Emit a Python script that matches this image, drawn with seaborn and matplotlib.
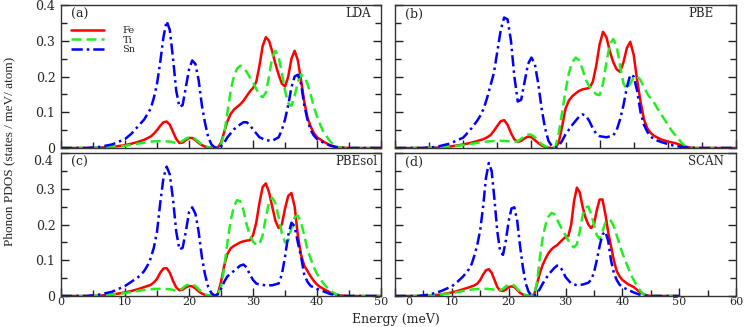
import matplotlib
matplotlib.use("Agg")
import matplotlib.pyplot as plt
import matplotlib.transforms as mtransforms
from matplotlib.ticker import MultipleLocator, FuncFormatter
import pandas as pd
import seaborn as sns

species = ["Fe", "Ti", "Sn"]
functionals = ["LDA", "PBE", "PBEsol", "SCAN"]
panel_tags = ["(a)", "(b)", "(c)", "(d)"]
colors = {"Fe": "#ff0000", "Ti": "#22ee22", "Sn": "#0000ff"}

# (energy in meV, PDOS) pairs
lda_fe = [(0, 0), (4, 0), (6, 0.001), (8, 0.003), (10, 0.008), (11, 0.012), (12, 0.017), (13, 0.023),
          (14, 0.032), (14.5, 0.04), (15, 0.05), (15.5, 0.062), (16, 0.072), (16.5, 0.074), (17, 0.065),
          (17.5, 0.045), (18, 0.025), (18.5, 0.014), (19, 0.015), (19.5, 0.022), (20, 0.028), (20.5, 0.028),
          (21, 0.022), (21.5, 0.014), (22, 0.008), (22.5, 0.004), (23, 0.002), (23.5, 0.001), (24, 0),
          (24.5, 0.001), (25, 0.015), (25.5, 0.045), (26, 0.075), (26.5, 0.095), (27, 0.107), (27.5, 0.115),
          (28, 0.122), (28.5, 0.132), (29, 0.145), (29.5, 0.158), (30, 0.168), (30.5, 0.185), (31, 0.23),
          (31.5, 0.285), (32, 0.31), (32.5, 0.3), (33, 0.27), (33.5, 0.235), (34, 0.205), (34.5, 0.18),
          (35, 0.172), (35.5, 0.2), (36, 0.25), (36.5, 0.272), (37, 0.245), (37.5, 0.19), (38, 0.13),
          (38.5, 0.085), (39, 0.06), (39.5, 0.042), (40, 0.03), (41, 0.018), (42, 0.008), (43, 0.003),
          (44, 0.001), (45, 0), (50, 0)]
lda_ti = [(0, 0), (4, 0), (6, 0.001), (8, 0.003), (10, 0.006), (11, 0.009), (12, 0.012), (13, 0.015),
          (14, 0.018), (15, 0.019), (16, 0.019), (17, 0.018), (17.5, 0.016), (18, 0.014), (18.5, 0.015),
          (19, 0.02), (19.5, 0.026), (20, 0.03), (20.5, 0.03), (21, 0.025), (21.5, 0.017), (22, 0.01),
          (22.5, 0.005), (23, 0.002), (23.5, 0.001), (24, 0), (24.5, 0.002), (25, 0.01), (25.5, 0.04),
          (26, 0.1), (26.5, 0.16), (27, 0.2), (27.5, 0.222), (28, 0.23), (28.5, 0.225), (29, 0.213),
          (29.5, 0.198), (30, 0.184), (30.5, 0.165), (31, 0.148), (31.5, 0.142), (32, 0.155), (32.5, 0.2),
          (33, 0.255), (33.5, 0.272), (34, 0.255), (34.5, 0.21), (35, 0.16), (35.5, 0.125), (36, 0.118),
          (36.5, 0.145), (37, 0.185), (37.5, 0.205), (38, 0.2), (38.5, 0.18), (39, 0.15), (39.5, 0.115),
          (40, 0.088), (40.5, 0.065), (41, 0.045), (41.5, 0.032), (42, 0.02), (42.5, 0.01), (43, 0.004),
          (43.5, 0.001), (44, 0), (50, 0)]
lda_sn = [(0, 0), (4, 0), (6, 0.003), (8, 0.01), (10, 0.025), (11, 0.04), (12, 0.06), (13, 0.08),
          (14, 0.11), (14.5, 0.14), (15, 0.18), (15.5, 0.24), (16, 0.31), (16.5, 0.355), (17, 0.33),
          (17.5, 0.25), (18, 0.16), (18.5, 0.115), (19, 0.12), (19.5, 0.17), (20, 0.22), (20.5, 0.245),
          (21, 0.235), (21.5, 0.19), (22, 0.12), (22.5, 0.07), (23, 0.03), (23.5, 0.01), (24, 0.002),
          (24.5, 0), (25, 0.005), (25.5, 0.015), (26, 0.03), (27, 0.052), (28, 0.066), (28.5, 0.072),
          (29, 0.072), (29.5, 0.064), (30, 0.052), (31, 0.03), (32, 0.022), (33, 0.02), (34, 0.03),
          (34.5, 0.05), (35, 0.08), (35.5, 0.12), (36, 0.17), (36.5, 0.2), (37, 0.205), (37.5, 0.18),
          (38, 0.12), (38.5, 0.08), (39, 0.05), (39.5, 0.035), (40, 0.025), (41, 0.015), (42, 0.007),
          (43, 0.002), (44, 0), (50, 0)]

pbe_fe = [(0, 0), (4, 0), (6, 0.001), (8, 0.004), (10, 0.01), (11, 0.014), (12, 0.019), (13, 0.025),
          (13.5, 0.03), (14, 0.036), (14.5, 0.048), (15, 0.062), (15.5, 0.075), (16, 0.078), (16.5, 0.065),
          (17, 0.042), (17.5, 0.024), (18, 0.017), (18.5, 0.02), (19, 0.027), (19.5, 0.032), (20, 0.03),
          (20.5, 0.022), (21, 0.014), (21.5, 0.007), (22, 0.003), (22.5, 0.001), (23, 0), (23.5, 0),
          (24, 0.015), (24.5, 0.06), (25, 0.11), (25.5, 0.133), (26, 0.145), (26.5, 0.153), (27, 0.16),
          (27.5, 0.164), (28, 0.166), (28.5, 0.168), (29, 0.185), (29.5, 0.23), (30, 0.29), (30.5, 0.325),
          (31, 0.31), (31.5, 0.27), (32, 0.24), (32.5, 0.22), (33, 0.213), (33.5, 0.24), (34, 0.28),
          (34.5, 0.297), (35, 0.26), (35.5, 0.19), (36, 0.13), (36.5, 0.08), (37, 0.055), (37.5, 0.042),
          (38, 0.034), (38.5, 0.029), (39, 0.024), (40, 0.018), (41, 0.014), (42, 0.008), (43, 0.002),
          (44, 0), (50, 0)]
pbe_ti = [(0, 0), (4, 0), (6, 0.001), (8, 0.004), (10, 0.008), (11, 0.011), (12, 0.014), (13, 0.017),
          (14, 0.019), (15, 0.02), (16, 0.02), (17, 0.018), (17.5, 0.017), (18, 0.019), (18.5, 0.026),
          (19, 0.033), (19.5, 0.038), (20, 0.037), (20.5, 0.03), (21, 0.02), (21.5, 0.011), (22, 0.005),
          (22.5, 0.002), (23, 0.001), (23.5, 0.002), (24, 0.04), (24.5, 0.1), (25, 0.16), (25.5, 0.21),
          (26, 0.24), (26.5, 0.253), (27, 0.245), (27.5, 0.22), (28, 0.19), (28.5, 0.172), (29, 0.16),
          (29.5, 0.15), (30, 0.148), (30.5, 0.18), (31, 0.24), (31.5, 0.29), (32, 0.305), (32.5, 0.285),
          (33, 0.23), (33.5, 0.18), (34, 0.165), (34.5, 0.18), (35, 0.198), (35.5, 0.2), (36, 0.19),
          (36.5, 0.17), (37, 0.152), (37.5, 0.138), (38, 0.126), (38.5, 0.11), (39, 0.095), (39.5, 0.08),
          (40, 0.065), (40.5, 0.05), (41, 0.038), (41.5, 0.028), (42, 0.015), (42.5, 0.006), (43, 0.002),
          (44, 0), (50, 0)]
pbe_sn = [(0, 0), (4, 0), (6, 0.003), (8, 0.012), (10, 0.029), (11, 0.05), (12, 0.075), (12.5, 0.09),
          (13, 0.11), (13.5, 0.14), (14, 0.175), (14.5, 0.21), (15, 0.27), (15.5, 0.33), (16, 0.365),
          (16.5, 0.36), (17, 0.3), (17.5, 0.2), (18, 0.13), (18.5, 0.135), (19, 0.185), (19.5, 0.235),
          (20, 0.253), (20.5, 0.235), (21, 0.18), (21.5, 0.11), (22, 0.055), (22.5, 0.02), (23, 0.005),
          (23.5, 0.001), (24, 0.006), (24.5, 0.02), (25, 0.038), (26, 0.065), (27, 0.088), (27.5, 0.094),
          (28, 0.09), (28.5, 0.075), (29, 0.055), (29.5, 0.04), (30, 0.033), (31, 0.03), (32, 0.035),
          (32.5, 0.05), (33, 0.08), (33.5, 0.12), (34, 0.17), (34.5, 0.205), (35, 0.2), (35.5, 0.16),
          (36, 0.1), (36.5, 0.065), (37, 0.045), (37.5, 0.032), (38, 0.024), (39, 0.017), (40, 0.011),
          (41, 0.006), (42, 0.003), (43, 0.001), (44, 0), (50, 0)]

pbesol_fe = [(0, 0), (4, 0), (6, 0.001), (8, 0.004), (10, 0.01), (11, 0.014), (12, 0.019), (13, 0.025),
             (14, 0.031), (14.5, 0.038), (15, 0.048), (15.5, 0.065), (16, 0.077), (16.5, 0.078), (17, 0.065),
             (17.5, 0.042), (18, 0.024), (18.5, 0.016), (19, 0.018), (19.5, 0.024), (20, 0.028), (20.5, 0.027),
             (21, 0.021), (21.5, 0.013), (22, 0.007), (22.5, 0.003), (23, 0.001), (23.5, 0), (24, 0),
             (24.5, 0.005), (25, 0.04), (25.5, 0.085), (26, 0.118), (26.5, 0.133), (27, 0.14), (27.5, 0.145),
             (28, 0.15), (28.5, 0.153), (29, 0.155), (29.5, 0.156), (30, 0.17), (30.5, 0.205), (31, 0.26),
             (31.5, 0.305), (32, 0.315), (32.5, 0.29), (33, 0.25), (33.5, 0.21), (34, 0.19), (34.5, 0.2),
             (35, 0.245), (35.5, 0.28), (36, 0.288), (36.5, 0.25), (37, 0.17), (37.5, 0.115), (38, 0.085),
             (38.5, 0.07), (39, 0.055), (39.5, 0.042), (40, 0.032), (40.5, 0.025), (41, 0.02), (42, 0.01),
             (43, 0.004), (44, 0.001), (45, 0), (50, 0)]
pbesol_ti = [(0, 0), (4, 0), (6, 0.001), (8, 0.004), (10, 0.008), (11, 0.011), (12, 0.014), (13, 0.017),
             (14, 0.019), (15, 0.02), (16, 0.02), (17, 0.019), (17.5, 0.017), (18, 0.015), (18.5, 0.016),
             (19, 0.022), (19.5, 0.029), (20, 0.033), (20.5, 0.033), (21, 0.028), (21.5, 0.019), (22, 0.011),
             (22.5, 0.005), (23, 0.002), (23.5, 0.001), (24, 0), (24.5, 0.005), (25, 0.025), (25.5, 0.08),
             (26, 0.15), (26.5, 0.21), (27, 0.25), (27.5, 0.268), (28, 0.265), (28.5, 0.24), (29, 0.2),
             (29.5, 0.17), (30, 0.152), (30.5, 0.143), (31, 0.145), (31.5, 0.17), (32, 0.22), (32.5, 0.262),
             (33, 0.275), (33.5, 0.26), (34, 0.22), (34.5, 0.175), (35, 0.15), (35.5, 0.155), (36, 0.19),
             (36.5, 0.22), (37, 0.225), (37.5, 0.205), (38, 0.17), (38.5, 0.13), (39, 0.105), (39.5, 0.08),
             (40, 0.062), (40.5, 0.048), (41, 0.035), (41.5, 0.025), (42, 0.017), (42.5, 0.01), (43, 0.005),
             (43.5, 0.002), (44, 0), (50, 0)]
pbesol_sn = [(0, 0), (4, 0), (6, 0.004), (8, 0.012), (10, 0.028), (11, 0.04), (12, 0.052), (12.5, 0.06),
             (13, 0.07), (13.5, 0.085), (14, 0.105), (14.5, 0.135), (15, 0.18), (15.5, 0.26), (16, 0.33),
             (16.5, 0.362), (17, 0.34), (17.5, 0.27), (18, 0.18), (18.5, 0.13), (19, 0.135), (19.5, 0.18),
             (20, 0.235), (20.5, 0.248), (21, 0.23), (21.5, 0.18), (22, 0.11), (22.5, 0.06), (23, 0.025),
             (23.5, 0.008), (24, 0.001), (24.5, 0.005), (25, 0.02), (25.5, 0.04), (26, 0.055), (27, 0.07),
             (28, 0.085), (28.5, 0.088), (29, 0.08), (29.5, 0.06), (30, 0.045), (30.5, 0.035), (31, 0.032),
             (32, 0.03), (33, 0.03), (34, 0.035), (34.5, 0.06), (35, 0.11), (35.5, 0.17), (36, 0.205),
             (36.5, 0.195), (37, 0.15), (37.5, 0.11), (38, 0.06), (38.5, 0.04), (39, 0.028), (40, 0.02),
             (41, 0.013), (42, 0.006), (43, 0.002), (44, 0), (50, 0)]

scan_fe = [(0, 0), (4, 0), (6, 0.001), (8, 0.004), (10, 0.01), (11, 0.014), (12, 0.019), (13, 0.024),
           (14, 0.03), (14.5, 0.035), (15, 0.045), (15.5, 0.06), (16, 0.072), (16.5, 0.075), (17, 0.065),
           (17.5, 0.045), (18, 0.025), (18.5, 0.015), (19, 0.014), (19.5, 0.018), (20, 0.025), (20.5, 0.027),
           (21, 0.025), (21.5, 0.017), (22, 0.009), (22.5, 0.004), (23, 0.002), (23.5, 0.001), (24, 0),
           (24.5, 0.005), (25, 0.035), (25.5, 0.065), (26, 0.088), (26.5, 0.105), (27, 0.12), (27.5, 0.13),
           (28, 0.137), (28.5, 0.142), (29, 0.15), (29.5, 0.158), (30, 0.165), (30.5, 0.168), (31, 0.2),
           (31.5, 0.265), (32, 0.303), (32.5, 0.29), (33, 0.25), (33.5, 0.22), (34, 0.2), (34.5, 0.19),
           (35, 0.2), (35.5, 0.24), (36, 0.27), (36.5, 0.27), (37, 0.23), (37.5, 0.18), (38, 0.14),
           (38.5, 0.1), (39, 0.07), (39.5, 0.055), (40, 0.045), (41, 0.033), (42, 0.025), (43, 0.012),
           (44, 0.003), (45, 0), (50, 0)]
scan_ti = [(0, 0), (4, 0), (6, 0.001), (8, 0.004), (10, 0.008), (11, 0.011), (12, 0.014), (13, 0.017),
           (14, 0.019), (15, 0.02), (16, 0.02), (17, 0.019), (17.5, 0.017), (18, 0.015), (18.5, 0.016),
           (19, 0.02), (19.5, 0.027), (20, 0.032), (20.5, 0.033), (21, 0.029), (21.5, 0.02), (22, 0.012),
           (22.5, 0.006), (23, 0.002), (23.5, 0.001), (24, 0), (24.5, 0.003), (25, 0.04), (25.5, 0.11),
           (26, 0.165), (26.5, 0.2), (27, 0.222), (27.5, 0.232), (28, 0.23), (28.5, 0.215), (29, 0.198),
           (29.5, 0.183), (30, 0.17), (30.5, 0.155), (31, 0.142), (31.5, 0.136), (32, 0.145), (32.5, 0.18),
           (33, 0.225), (33.5, 0.248), (34, 0.25), (34.5, 0.23), (35, 0.2), (35.5, 0.17), (36, 0.16),
           (36.5, 0.18), (37, 0.205), (37.5, 0.213), (38, 0.21), (38.5, 0.195), (39, 0.17), (39.5, 0.145),
           (40, 0.12), (40.5, 0.1), (41, 0.08), (41.5, 0.06), (42, 0.045), (42.5, 0.03), (43, 0.018),
           (43.5, 0.008), (44, 0.003), (45, 0), (50, 0)]
scan_sn = [(0, 0), (4, 0), (6, 0.004), (8, 0.013), (10, 0.027), (11, 0.04), (12, 0.055), (13, 0.075),
           (13.5, 0.09), (14, 0.115), (14.5, 0.145), (15, 0.185), (15.5, 0.25), (16, 0.33), (16.5, 0.372),
           (17, 0.35), (17.5, 0.27), (18, 0.18), (18.5, 0.125), (19, 0.115), (19.5, 0.155), (20, 0.21),
           (20.5, 0.245), (21, 0.248), (21.5, 0.21), (22, 0.14), (22.5, 0.08), (23, 0.035), (23.5, 0.012),
           (24, 0.002), (24.5, 0), (25, 0.008), (25.5, 0.02), (26, 0.035), (27, 0.06), (28, 0.078),
           (28.5, 0.085), (29, 0.083), (29.5, 0.07), (30, 0.053), (31, 0.035), (32, 0.03), (33, 0.032),
           (34, 0.037), (34.5, 0.045), (35, 0.065), (35.5, 0.1), (36, 0.14), (36.5, 0.172), (37, 0.18),
           (37.5, 0.155), (38, 0.1), (38.5, 0.065), (39, 0.045), (39.5, 0.032), (40, 0.025), (41, 0.017),
           (42, 0.01), (43, 0.004), (44, 0.001), (45, 0), (50, 0)]

curves = {
    "LDA": {"Fe": lda_fe, "Ti": lda_ti, "Sn": lda_sn},
    "PBE": {"Fe": pbe_fe, "Ti": pbe_ti, "Sn": pbe_sn},
    "PBEsol": {"Fe": pbesol_fe, "Ti": pbesol_ti, "Sn": pbesol_sn},
    "SCAN": {"Fe": scan_fe, "Ti": scan_ti, "Sn": scan_sn},
}
x_limits = {"LDA": 50, "PBE": 50, "PBEsol": 50, "SCAN": 60}
line_styles = {"Fe": "-", "Ti": (0, (4, 2)), "Sn": (0, (4.5, 1.6, 1, 1.6))}

sns.set_style("ticks")
plt.rcParams["font.family"] = ["DejaVu Serif"]
plt.rcParams["axes.linewidth"] = 1.0

fig = plt.figure(figsize=(7.47, 3.27), dpi=100)
boxes = [
    [0.0817, 0.5474, 0.4284, 0.4373],
    [0.5288, 0.5474, 0.4565, 0.4373],
    [0.0817, 0.0948, 0.4284, 0.4373],
    [0.5288, 0.0948, 0.4565, 0.4373],
]
axes = [fig.add_axes(b) for b in boxes]

tag_x = {"LDA": 0.97, "PBE": 0.935, "PBEsol": 0.99, "SCAN": 0.965}

for i, (ax, name, tag) in enumerate(zip(axes, functionals, panel_tags)):
    for sp in species:
        e, v = zip(*curves[name][sp])
        df = pd.DataFrame({"energy": e, "pdos": v})
        sns.lineplot(data=df, x="energy", y="pdos", ax=ax, color=colors[sp],
                     linestyle=line_styles[sp], lw=1.8, estimator=None, sort=False,
                     legend=False, label=sp if i == 0 else None)
    ax.set_xlim(0, x_limits[name])
    ax.set_ylim(0, 0.4)
    ax.set_xlabel("")
    ax.set_ylabel("")
    ax.xaxis.set_major_locator(MultipleLocator(10))
    ax.xaxis.set_minor_locator(MultipleLocator(5))
    ax.yaxis.set_major_locator(MultipleLocator(0.1))
    ax.yaxis.set_minor_locator(MultipleLocator(0.05))
    ax.yaxis.set_major_formatter(FuncFormatter(lambda v, p: "%g" % round(v, 2)))
    ax.tick_params(which="both", direction="in", left=True, right=True, top=False,
                   bottom=True, labelsize=9, color="#222222", pad=4)
    ax.tick_params(axis="x", labelsize=8, pad=1)
    ax.tick_params(which="major", length=6, width=1.0)
    ax.tick_params(which="minor", length=4, width=1.0)
    if i in (0, 1):
        ax.tick_params(labelbottom=False)
    if i in (1, 3):
        ax.tick_params(labelleft=False)
    for s in ax.spines.values():
        s.set_color("#333333")
    ax.text(0.03, 0.935, tag, transform=ax.transAxes, fontsize=9, va="center", ha="left")
    ax.text(tag_x[name], 0.94, name, transform=ax.transAxes, fontsize=8.5, va="center", ha="right")

# legend only in panel (a)
axes[0].legend(loc="upper left", bbox_to_anchor=(0.01, 0.9), frameon=False, fontsize=7,
               handlelength=3.4, handletextpad=1.9, labelspacing=0.05, borderpad=0.2)

# the 0.4 label of the lower left panel sits a bit lower, clear of the 0 above it
ax_c = axes[2]
ax_c.yaxis.set_major_formatter(FuncFormatter(lambda v, p: "" if abs(v - 0.4) < 1e-6 else "%g" % round(v, 2)))
ax_c.text(0, 0.4, "0.4", fontsize=9, ha="right", va="center",
          transform=ax_c.get_yaxis_transform() + mtransforms.ScaledTranslation(-0.08, -0.08, fig.dpi_scale_trans))

# the 0 label of the lower right panel is pushed right, clear of the 50
ax_d = axes[3]
ax_d.xaxis.set_major_formatter(FuncFormatter(lambda v, p: "" if abs(v) < 1e-6 else "%g" % v))
ax_d.text(0, 0, "0", fontsize=8, ha="center", va="top",
          transform=ax_d.get_xaxis_transform() + mtransforms.ScaledTranslation(0.14, -0.014, fig.dpi_scale_trans))

fig.text(0.013, 0.538, "Phonon PDOS (states / meV/ atom)", rotation=90, ha="center", va="center",
         fontsize=9.5, family=["Liberation Serif", "DejaVu Serif"])
fig.text(0.53, 0.003, "Energy (meV)", ha="center", va="bottom", fontsize=9)

fig.savefig("out.png", dpi=100)
